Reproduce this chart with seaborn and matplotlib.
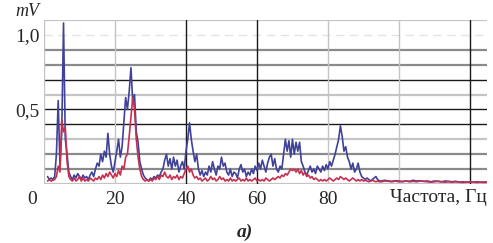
import numpy as np
import pandas as pd
import seaborn as sns
import matplotlib.pyplot as plt
import matplotlib.transforms as mtransforms

# sample grid of the spectrum (Hz)
freq = np.concatenate([np.arange(1.0, 95.0, 0.5), np.arange(95.0, 126.0, 1.0)])

# blue trace, mV
blue = [
    0.05, 0.03, 0.04, 0.03, 0.05, 0.20, 0.56, 0.12, 0.35, 1.08,
    0.30, 0.20, 0.08, 0.05, 0.03, 0.06, 0.04, 0.07, 0.05, 0.03,
    0.06, 0.04, 0.05, 0.03, 0.06, 0.08, 0.05, 0.10, 0.14, 0.12,
    0.20, 0.15, 0.22, 0.18, 0.34, 0.20, 0.12, 0.08, 0.15, 0.22,
    0.30, 0.18, 0.25, 0.42, 0.58, 0.50, 0.62, 0.78, 0.55, 0.60,
    0.35, 0.28, 0.15, 0.10, 0.06, 0.04, 0.03, 0.02, 0.04, 0.03,
    0.05, 0.04, 0.06, 0.05, 0.08, 0.10, 0.16, 0.20, 0.12, 0.17,
    0.10, 0.18, 0.12, 0.16, 0.08, 0.12, 0.15, 0.10, 0.22, 0.30,
    0.41, 0.30, 0.22, 0.15, 0.20, 0.10, 0.06, 0.09, 0.05, 0.08,
    0.06, 0.12, 0.08, 0.15, 0.10, 0.06, 0.12, 0.10, 0.18, 0.12,
    0.14, 0.08, 0.06, 0.10, 0.05, 0.08, 0.07, 0.04, 0.10, 0.13,
    0.08, 0.10, 0.05, 0.08, 0.06, 0.10, 0.07, 0.12, 0.09, 0.14,
    0.10, 0.16, 0.12, 0.08, 0.14, 0.18, 0.20, 0.12, 0.17, 0.10,
    0.08, 0.12, 0.10, 0.20, 0.30, 0.22, 0.29, 0.18, 0.30, 0.20,
    0.28, 0.22, 0.28, 0.15, 0.12, 0.08, 0.06, 0.09, 0.12, 0.08,
    0.10, 0.07, 0.12, 0.10, 0.08, 0.12, 0.09, 0.13, 0.10, 0.15,
    0.12, 0.16, 0.20, 0.25, 0.30, 0.39, 0.32, 0.22, 0.25, 0.18,
    0.15, 0.10, 0.14, 0.08, 0.10, 0.14, 0.08, 0.05, 0.04, 0.03,
    0.04, 0.03, 0.02, 0.03, 0.04, 0.05, 0.03, 0.02,
    0.020, 0.025, 0.020, 0.018, 0.022, 0.020, 0.015, 0.020, 0.018, 0.025,
    0.020, 0.022, 0.018, 0.020, 0.015, 0.020, 0.018, 0.015, 0.020, 0.018,
    0.015, 0.018, 0.012, 0.015, 0.012, 0.014, 0.012, 0.015, 0.012, 0.013,
    0.012,
]

# red trace, mV
red = [
    0.02, 0.03, 0.02, 0.025, 0.03, 0.05, 0.12, 0.08, 0.43, 0.35,
    0.38, 0.15, 0.05, 0.03, 0.02, 0.04, 0.02, 0.03, 0.05, 0.02,
    0.04, 0.02, 0.03, 0.02, 0.04, 0.03, 0.02, 0.04, 0.03, 0.05,
    0.03, 0.06, 0.04, 0.07, 0.05, 0.08, 0.06, 0.04, 0.07, 0.05,
    0.09, 0.06, 0.12, 0.10, 0.18, 0.20, 0.32, 0.45, 0.58, 0.50,
    0.30, 0.18, 0.10, 0.05, 0.03, 0.02, 0.03, 0.02, 0.03, 0.02,
    0.04, 0.03, 0.05, 0.03, 0.06, 0.05, 0.08, 0.05, 0.04, 0.06,
    0.03, 0.05, 0.04, 0.06, 0.03, 0.05, 0.04, 0.07, 0.10, 0.12,
    0.08, 0.10, 0.06, 0.04, 0.05, 0.03, 0.04, 0.02, 0.03, 0.04,
    0.02, 0.03, 0.05, 0.03, 0.04, 0.02, 0.03, 0.05, 0.03, 0.04,
    0.02, 0.03, 0.02, 0.04, 0.02, 0.03, 0.02, 0.03, 0.04, 0.02,
    0.03, 0.02, 0.04, 0.02, 0.03, 0.02, 0.03, 0.04, 0.02, 0.03,
    0.02, 0.03, 0.02, 0.04, 0.03, 0.02, 0.03, 0.04, 0.03, 0.04,
    0.05, 0.04, 0.06, 0.05, 0.07, 0.06, 0.08, 0.10, 0.09, 0.10,
    0.08, 0.10, 0.07, 0.09, 0.06, 0.08, 0.05, 0.06, 0.04, 0.05,
    0.03, 0.04, 0.03, 0.02, 0.03, 0.02, 0.03, 0.02, 0.03, 0.04,
    0.03, 0.02, 0.03, 0.04, 0.03, 0.05, 0.04, 0.03, 0.04, 0.03,
    0.02, 0.03, 0.04, 0.03, 0.02, 0.03, 0.02, 0.03, 0.02, 0.025,
    0.02, 0.015, 0.02, 0.025, 0.02, 0.015, 0.02, 0.015,
    0.015, 0.020, 0.018, 0.015, 0.020, 0.015, 0.018, 0.020, 0.015, 0.018,
    0.015, 0.020, 0.018, 0.015, 0.012, 0.015, 0.018, 0.015, 0.012, 0.015,
    0.012, 0.015, 0.012, 0.010, 0.012, 0.015, 0.012, 0.010, 0.012, 0.010,
    0.012,
]

xtick_vals = [0, 20, 40, 60, 80]
xtick_labels = ['0', '20', '40', '60', '80']
ytick_vals = [0.5, 1.0]
ytick_labels = ['0,5', '1,0']

df = pd.concat([
    pd.DataFrame({'freq': freq, 'value': blue, 'series': 'blue'}),
    pd.DataFrame({'freq': freq, 'value': red, 'series': 'red'}),
])

sns.set_theme(style="white")
plt.rcParams['font.family'] = ['Liberation Serif', 'DejaVu Serif']

W, H = 493, 243
fig = plt.figure(figsize=(W / 100, H / 100), dpi=100)
ax = fig.add_axes([44 / W, 1 - 184 / H, (487 - 44) / W, 164 / H])

# horizontal grid, one style per 0.1 mV level
light = dict(color='#c4c4c4', lw=1.6)
gray = dict(color='#8a8a8a', lw=1.6)
black = dict(color='#1a1a1a', lw=1.0)
faint = dict(color='#e4e4e4', lw=1.0, ls=(0, (6, 4)))
hstyles = [light, gray, gray, light, black, black, light, black, gray, gray, faint, light]
for i, st in enumerate(hstyles):
    ax.axhline(i * 0.1, zorder=0, **st)

vlight = dict(color='#c4c4c4', lw=1.0)
vblack = dict(color='#1a1a1a', lw=1.0)
for xv, st in zip([0, 20, 40, 60, 80, 100, 120], [vlight, vlight, vblack, vblack, vlight, vlight, vblack]):
    ax.axvline(xv, zorder=0, **st)

sns.lineplot(data=df, x='freq', y='value', hue='series', hue_order=['blue', 'red'],
             palette={'blue': '#40429a', 'red': '#c63050'}, legend=False,
             lw=1.2, ax=ax, zorder=3)

ax.set_xlim(0, 124.8)
ax.set_ylim(0, 1.1)
for s in ax.spines.values():
    s.set_visible(False)
ax.set_xlabel('')
ax.set_ylabel('')
ax.set_xticks(xtick_vals)
ax.set_xticklabels(xtick_labels, fontsize=14)
ax.set_yticks(ytick_vals)
ax.set_yticklabels(ytick_labels, fontsize=14)
ax.tick_params(axis='both', length=0)
ax.tick_params(axis='x', pad=5)
ax.tick_params(axis='y', pad=3)

# first x label sits left of the axis origin in the original
lab0 = ax.get_xticklabels()[0]
lab0.set_transform(lab0.get_transform() + mtransforms.ScaledTranslation(-12 / 100, 0, fig.dpi_scale_trans))

fig.text(487 / W, 1 - 198 / H, 'Частота, Гц', ha='right', va='center', fontsize=14)
fig.text(27 / W, 1 - 12 / H, 'mV', ha='center', va='center', fontsize=13, style='italic')
fig.text(245 / W, 1 - 232 / H, 'а)', ha='center', va='center', fontsize=14,
         style='italic', weight='bold')

fig.savefig('out.png', dpi=100)
